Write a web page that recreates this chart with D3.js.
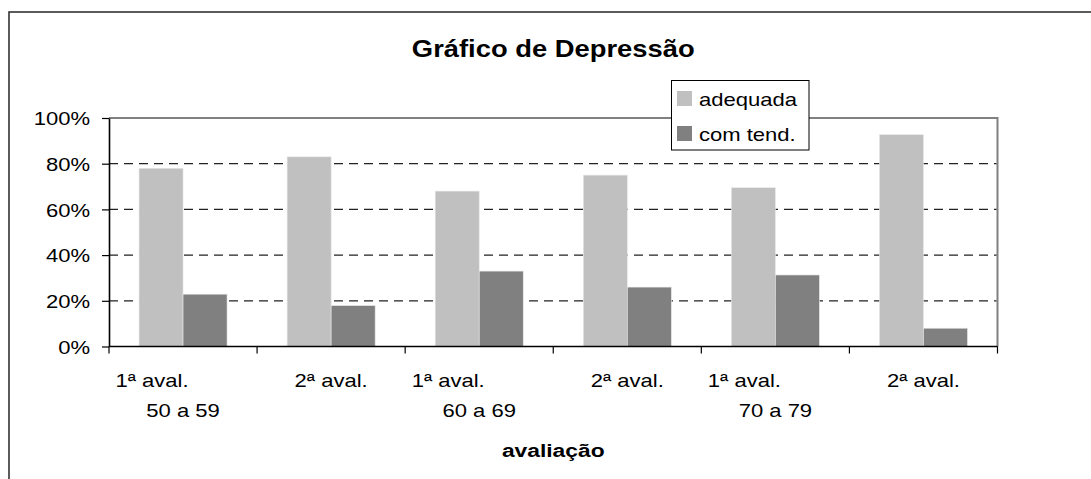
<!DOCTYPE html>
<html>
<head>
<meta charset="utf-8">
<script src="https://cdn.jsdelivr.net/npm/d3@7"></script>
<style>
  html, body { margin: 0; padding: 0; background: #fff; }
  svg { display: block; font-family: "Liberation Sans", Arial, sans-serif; }
</style>
</head>
<body>
<svg id="chart" width="1091" height="479"></svg>
<script>
const title = "Gráfico de Depressão";
const xTitle = "avaliação";
const categories = ["c1", "c2", "c3", "c4", "c5", "c6"];
const evalLabels = ["1ª aval.", "2ª aval.", "1ª aval.", "2ª aval.", "1ª aval.", "2ª aval."];
const ageGroups = ["50 a 59", "60 a 69", "70 a 79"];
const seriesNames = ["adequada", "com tend."];
const adequada = [78, 83, 68, 75, 69.5, 92.7];
const comTend = [22.9, 17.9, 33, 26, 31.3, 8];
const yTicks = [0, 20, 40, 60, 80, 100];
const colors = ["#C0C0C0", "#808080"];

const svg = d3.select("#chart");
const SX = 1.16;
const FS = 19;
const plot = { left: 109, right: 997.5, top: 118, bottom: 346.5 };

// outer frame (extends beyond the image on right/bottom)
svg.append("rect").attr("x", 9).attr("y", 12).attr("width", 1200).attr("height", 600)
  .attr("fill", "#fff").attr("stroke", "#333").attr("stroke-width", 1.6);

const x0 = d3.scaleBand().domain(categories).range([plot.left, plot.right]).padding(0);
const x1 = d3.scaleBand().domain(seriesNames).range([0, x0.bandwidth()]).paddingInner(0).paddingOuter(0.682);
const y = d3.scaleLinear().domain([0, 100]).range([plot.bottom, plot.top]);

// plot area top/right border
svg.append("path")
  .attr("d", `M${plot.left},${plot.top}H${plot.right}V${plot.bottom}`)
  .attr("fill", "none").attr("stroke", "#808080").attr("stroke-width", 2);

// gridlines
svg.append("g").selectAll("line").data(yTicks.filter(d => d > 0 && d < 100)).join("line")
  .attr("x1", plot.left).attr("x2", plot.right - 1)
  .attr("y1", d => y(d)).attr("y2", d => y(d))
  .attr("stroke", "#222").attr("stroke-width", 1.2).attr("stroke-dasharray", "9,6");

// bars
const data = categories.map((c, i) => ({ c, vals: [adequada[i], comTend[i]] }));
const groups = svg.append("g").selectAll("g").data(data).join("g")
  .attr("transform", d => `translate(${x0(d.c)},0)`);
groups.selectAll("rect").data(d => d.vals.map((v, j) => ({ v, s: seriesNames[j], j }))).join("rect")
  .attr("x", d => x1(d.s)).attr("width", x1.bandwidth())
  .attr("y", d => y(d.v)).attr("height", d => y(0) - y(d.v))
  .attr("fill", d => colors[d.j])
  .attr("stroke", "#e8e8e8").attr("stroke-width", 0.6);

// y axis
const yAxis = svg.append("g").attr("transform", `translate(${plot.left},0)`)
  .call(d3.axisLeft(y).tickValues(yTicks).tickFormat(d => d + "%").tickSize(7).tickSizeOuter(0));
yAxis.select(".domain").attr("stroke", "#000").attr("stroke-width", 1.6);
yAxis.selectAll(".tick line").attr("stroke", "#000").attr("stroke-width", 1.2);
yAxis.selectAll(".tick text")
  .attr("x", null).attr("dy", "0.35em")
  .attr("transform", `translate(-19,0) scale(${SX},1)`)
  .attr("font-size", FS).attr("fill", "#000")
  .attr("font-family", "Liberation Sans, Arial, sans-serif");

// x axis: ticks at category boundaries
const boundaries = categories.map(c => x0(c)).concat([plot.right]);
svg.append("line").attr("x1", plot.left).attr("x2", plot.right)
  .attr("y1", plot.bottom).attr("y2", plot.bottom)
  .attr("stroke", "#000").attr("stroke-width", 1.6);
svg.append("g").selectAll("line").data(boundaries).join("line")
  .attr("x1", d => d).attr("x2", d => d)
  .attr("y1", plot.bottom).attr("y2", plot.bottom + 7)
  .attr("stroke", "#000").attr("stroke-width", 1.2);

// x labels
const textAt = (sel, x, yy, txt, size, weight, anchor, sx) =>
  sel.append("text")
    .attr("transform", `translate(${x},${yy}) scale(${sx || SX},1)`)
    .attr("text-anchor", anchor || "middle")
    .attr("font-size", size).attr("font-weight", weight || "normal")
    .attr("fill", "#000").text(txt);

const labels = svg.append("g");
categories.forEach((c, i) => {
  const cx = x0(c) + x0.bandwidth() / 2;
  const off = i % 2 === 0 ? -31 : 0;
  textAt(labels, cx + off, 386.5, evalLabels[i], FS);
  if (i % 2 === 0) textAt(labels, cx, 416.5, ageGroups[i / 2], FS);
});

// titles
textAt(svg, (plot.left + plot.right) / 2, 56.5, title, 23, "bold", "middle", 1.19);
textAt(svg, (plot.left + plot.right) / 2, 457, xTitle, 19, "bold", "middle", 1.2);

// legend
const lg = svg.append("g");
lg.append("rect").attr("x", 671.5).attr("y", 80.5).attr("width", 137.5).attr("height", 69.5)
  .attr("fill", "#fff").attr("stroke", "#000").attr("stroke-width", 1);
seriesNames.forEach((s, i) => {
  lg.append("rect").attr("x", 677).attr("y", 91 + i * 35).attr("width", 15).attr("height", 15)
    .attr("fill", colors[i]);
  textAt(lg, 699, 105.5 + i * 35.5, s, FS, "normal", "start");
});
</script>
</body>
</html>
